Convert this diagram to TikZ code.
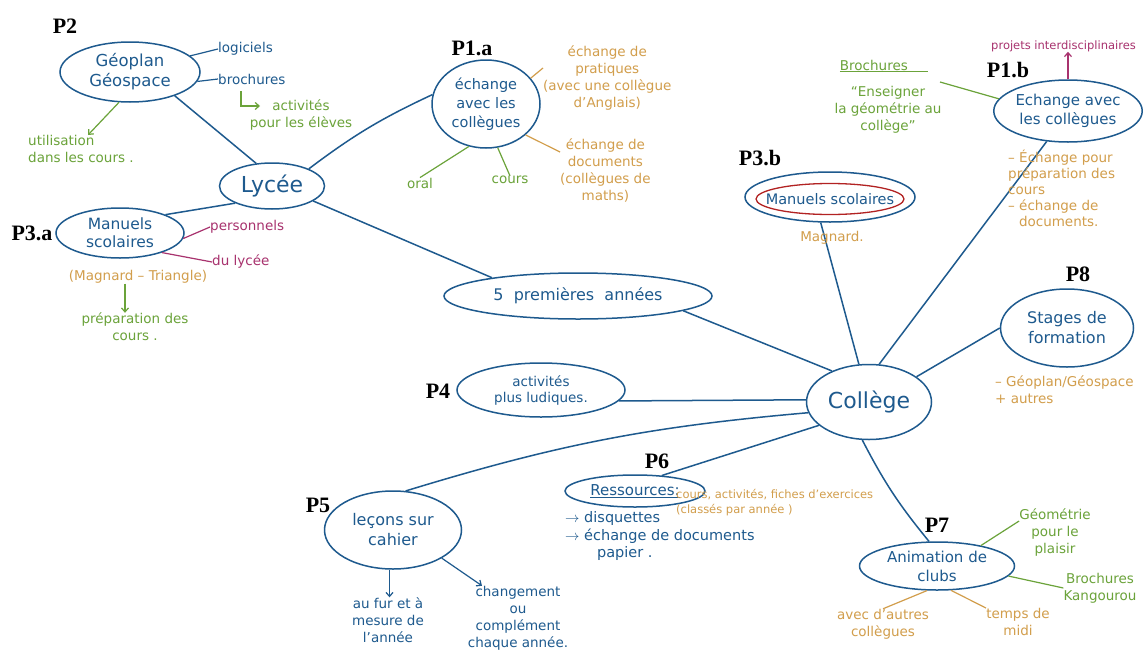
\documentclass[tikz,border=0pt]{standalone}
\usepackage{fontspec}
\setmainfont{DejaVu Sans}
\newfontfamily\lblfont{Liberation Serif}
\usetikzlibrary{shapes.geometric,arrows.meta}
\definecolor{ink}{HTML}{1E5A8E}
\definecolor{grn}{HTML}{6BA33A}
\definecolor{org}{HTML}{D29E4C}
\definecolor{mag}{HTML}{A8326E}
\definecolor{rd}{HTML}{B22222}
\begin{document}
\begin{tikzpicture}[x=1pt,y=-1pt,
  bub/.style={draw=ink, line width=1.5pt, ellipse, inner sep=0pt, text=ink, align=center, font=\fontsize{15}{19}\selectfont},
  con/.style={draw=ink, line width=1.5pt},
  gl/.style={draw=grn, line width=1.2pt},
  ol/.style={draw=org, line width=1.2pt},
  ml/.style={draw=mag, line width=1.2pt},
  bl/.style={draw=ink, line width=1.2pt},
  plab/.style={font=\lblfont\bfseries\fontsize{22}{24}\selectfont, text=black, inner sep=0pt},
  tx/.style={align=center, inner sep=0pt, font=\fontsize{13.5}{17}\selectfont},
  btx/.style={tx, text=ink},
  gtx/.style={tx, text=grn},
  otx/.style={tx, text=org},
  mtx/.style={tx, text=mag},
  arr/.style={-{Straight Barb[length=4pt,width=7pt]}}
]
\useasboundingbox[fill=white] (0,0) rectangle (1143,656);

% ---------- main bubbles ----------
\node[bub, minimum width=140pt, minimum height=60pt, font=\fontsize{16.5}{20}\selectfont] (geo) at (130,72) {Géoplan\\Géospace};
\node[bub, minimum width=105pt, minimum height=46pt, font=\fontsize{22}{24}\selectfont] (lyc) at (272,186) {Lycée};
\node[bub, minimum width=128pt, minimum height=50pt, font=\fontsize{15.5}{18}\selectfont] (man) at (120,233) {Manuels\\scolaires};
\node[bub, minimum width=108pt, minimum height=88pt, font=\fontsize{14.5}{19}\selectfont] (p1a) at (486,104) {échange\\avec les\\collègues};
\node[bub, minimum width=268pt, minimum height=46pt, font=\fontsize{16}{19}\selectfont] (cinq) at (578,296) {5 \ premières \ années};
\node[bub, minimum width=168pt, minimum height=54pt, font=\fontsize{13.5}{16}\selectfont] (ludi) at (541,390) {activités\\plus ludiques.};
\node[bub, minimum width=170pt, minimum height=50pt] (p3b) at (830,197) {};
\node[draw=rd, line width=1.3pt, ellipse, minimum width=148pt, minimum height=31pt, inner sep=0pt] (p3bin) at (830,199) {};
\node[text=ink, inner sep=0pt, font=\fontsize{14.5}{17}\selectfont] (p3btxt) at (830,199) {Manuels scolaires};
\node[bub, minimum width=140pt, minimum height=62pt] (p1b) at (1068,111) {Echange avec\\les collègues};
\node[bub, minimum width=133pt, minimum height=78pt, font=\fontsize{16}{20}\selectfont] (p8) at (1067,328) {Stages de\\formation};
\node[bub, minimum width=125pt, minimum height=75pt, font=\fontsize{22}{24}\selectfont] (col) at (869,402) {Collège};
\node[bub, minimum width=137pt, minimum height=78pt, font=\fontsize{16}{20}\selectfont] (p5) at (393,530) {leçons sur\\cahier};
\node[bub, minimum width=140pt, minimum height=32pt] (p6) at (635,491) {\underline{Ressources:}};
\node[bub, minimum width=155pt, minimum height=48pt] (p7) at (937,566) {Animation de\\clubs};

% ---------- P labels ----------
\node[plab] (lp2) at (65,26) {P2};
\node[plab] (lp1a) at (472,48) {P1.a};
\node[plab] (lp3a) at (32,233) {P3.a};
\node[plab] (lp3b) at (760,158) {P3.b};
\node[plab] (lp1b) at (1008,70) {P1.b};
\node[plab] (lp8) at (1078,274) {P8};
\node[plab] (lp4) at (438,391) {P4};
\node[plab] (lp5) at (318,505) {P5};
\node[plab] (lp6) at (657,461) {P6};
\node[plab] (lp7) at (937,525) {P7};

% ---------- main connectors ----------
\draw[con] (geo.-28) -- (lyc.125);
\draw[con] (lyc.25) to[bend left=6] (p1a.170);
\draw[con] (lyc.205) -- (man.22);
\draw[con] (lyc.-20) -- (cinq.168);
\draw[con] (cinq.-8) -- (col.140);
\draw[con] (p3b.-110) -- (col.105);
\draw[con] (p1b.-125) -- (col.75);
\draw[con] (p8.180) -- (col.28);
\draw[con] (ludi.-8) -- (col.178);
\draw[con] (p5.72) to[bend left=6] (col.190);
\draw[con] (p6.30) -- (col.205);
\draw[con] (col.-100) to[bend right=6] (p7.108);

% ---------- Géoplan / Géospace ----------
\node[btx, anchor=west] (logi) at (218,49) {logiciels};
\node[btx, anchor=west] (broc) at (218,79) {brochures};
\draw[bl] (geo.15) -- (logi.west);
\draw[bl] (geo.-8) -- (broc.west);
\node[gtx] (actv) at (301,115) {activités\\pour les élèves};
\coordinate (hk0) at (241,91);
\coordinate (hk) at (260,106);
\draw[grn, line width=1.2pt, arr] (hk0) |- (hk);
\node[gtx, align=left, anchor=north west] (util) at (28,135) {utilisation\\dans les cours .};
\draw[grn, line width=1.2pt, arr] (geo.-110) -- (util.north -| 88,128);

% ---------- Manuels scolaires (lycée) ----------
\node[mtx, anchor=west] (pers) at (210,227) {personnels};
\node[mtx, anchor=west] (dulyc) at (212,262) {du lycée};
\draw[ml] (man.-5) -- (pers.west);
\draw[ml] (man.-25) -- (dulyc.west);
\node[otx] (magtri) at (138,277) {(Magnard – Triangle)};
\node[gtx] (prep) at (135,327) {préparation des\\cours .};
\draw[grn, line width=1.2pt, arr] (magtri.south -| 125,0) -- (prep.north -| 125,0);

% ---------- P1.a ----------
\node[otx, anchor=north west] (prat) at (543,46) {échange de\\pratiques\\(avec une collègue\\d'Anglais)};
\node[otx, anchor=north west] (docs) at (560,138) {échange de\\documents\\(collègues de\\maths)};
\draw[ol] (p1a.30) -- (prat.north west |- 0,68);
\draw[ol] (p1a.-38) -- (docs.north west |- 0,152);
\node[gtx] (oral) at (420,183) {oral};
\node[gtx] (cours) at (510,180) {cours};
\draw[gl] (p1a.-112) -- (oral.north);
\draw[gl] (p1a.-75) -- (cours.north);

% ---------- P3.b ----------
\node[otx] (magn) at (832,238) {Magnard.};

% ---------- P1.b ----------
\node[gtx] (broch) at (884,66) {\underline{Brochures\hspace*{1.5em}}};
\node[gtx] (ens) at (888,110) {“Enseigner\\la géométrie au\\collège”};
\draw[gl] (940,82) -- (p1b.170);
\node[mtx, anchor=west, font=\fontsize{11.5}{14}\selectfont] (proj) at (991,46) {projets interdisciplinaires};
\draw[mag, line width=1.2pt, arr] (p1b.90) -- (proj.south -| p1b.90);
\node[otx, align=left, anchor=north west, font=\fontsize{13.5}{16}\selectfont] (echp) at (1008,150) {– Échange pour\\préparation des\\cours\\– échange de\\\hspace*{0.8em}documents.};

% ---------- P8 ----------
\node[otx, align=left, anchor=north west] (geop) at (995,375) {– Géoplan/Géospace\\+ autres};

% ---------- P5 ----------
\node[btx] (fur) at (388,620) {au fur et à\\mesure de\\l'année};
\node[btx] (chg) at (518,618) {changement\\ou\\complément\\chaque année.};
\draw[ink, line width=1.2pt, arr] (p5.-95) -- (fur.north -| p5.-95);
\draw[ink, line width=1.2pt, arr] (p5.-30) -- (chg.north -| 482,0);

% ---------- P6 ----------
\node[btx, anchor=north west, font=\fontsize{14.5}{17}\selectfont] (disq) at (565,511) {$\rightarrow$ disquettes};
\node[btx, align=left, anchor=north west, font=\fontsize{14.5}{17}\selectfont] (echd) at (565,529) {$\rightarrow$ échange de documents\\\hspace*{2.2em}papier .};
\node[otx, align=left, anchor=north west, font=\fontsize{11.5}{15}\selectfont] (cact) at (676,489) {cours, activités, fiches d'exercices\\(classés par année )};

% ---------- P7 ----------
\node[gtx] (geopl) at (1055,532) {Géométrie\\pour le\\plaisir};
\node[gtx] (kang) at (1100,588) {Brochures\\Kangourou};
\draw[gl] (p7.25) -- (geopl.west |- 0,521);
\draw[gl] (p7.-8) -- (kang.west);
\node[otx] (autres) at (883,624) {avec d'autres\\collègues};
\node[otx] (midi) at (1018,622) {temps de\\midi};
\draw[ol] (p7.-112) -- (autres.north);
\draw[ol] (p7.-60) -- (midi.north west);
\end{tikzpicture}
\end{document}
